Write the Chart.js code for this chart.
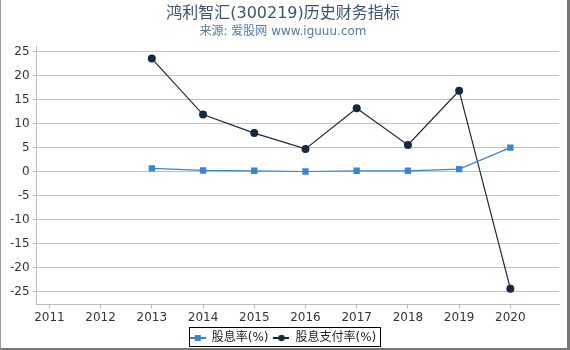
<!DOCTYPE html>
<html>
<head>
<meta charset="utf-8">
<script src="https://cdn.jsdelivr.net/npm/chart.js@4"></script>
<style>
  body { margin: 0; background: #fff; }
  #wrap {
    position: absolute; left: 0; top: 0;
    width: 566px; height: 348px;
    border-left: 1px solid #999;
    border-right: 3px solid #777;
    border-bottom: 2px solid #777;
  }
</style>
</head>
<body>
<div id="wrap"><canvas id="grafico"></canvas></div>
<script>
const anios = [2013, 2014, 2015, 2016, 2017, 2018, 2019, 2020];
const guxilv = [0.72, 0.27, 0.2, 0.06, 0.2, 0.2, 0.55, 5.03];
const zhifulv = [23.6, 11.93, 8.07, 4.76, 13.25, 5.59, 16.9, -24.37];
const ticksY = [-25, -20, -15, -10, -5, 0, 5, 10, 15, 20, 25];
const ticksX = [2011, 2012, 2013, 2014, 2015, 2016, 2017, 2018, 2019, 2020];

const FUENTE = '"DejaVu Sans", "Noto Sans CJK SC", sans-serif';

// icono de leyenda: linea corta con marcador
const iconoLeyenda = (color, forma) => {
    const c = document.createElement('canvas');
    c.width = 16; c.height = 8;
    const g = c.getContext('2d');
    g.strokeStyle = color;
    g.lineWidth = 2;
    g.beginPath(); g.moveTo(0, 4); g.lineTo(16, 4); g.stroke();
    g.fillStyle = color;
    if (forma === 'rect') {
        g.fillRect(5, 1, 6, 6);
    } else {
        g.beginPath(); g.arc(8, 4, 3.2, 0, Math.PI * 2); g.fill();
    }
    return c;
};

const bordeLeyenda = {
    id: 'bordeLeyenda',
    afterDraw(chart) {
        const l = chart.legend;
        if (!l || !l.legendHitBoxes.length) return;
        const boxes = l.legendHitBoxes;
        const x0 = boxes[0].left - 1;
        const last = boxes[boxes.length - 1];
        const x1 = last.left + last.width + 3;
        const y0 = boxes[0].top - 5;
        const y1 = Math.min(boxes[0].top + boxes[0].height + 4, chart.height - 1);
        const ctx = chart.ctx;
        ctx.save();
        ctx.strokeStyle = '#000';
        ctx.lineWidth = 1;
        ctx.strokeRect(Math.round(x0) + 0.5, Math.round(y0) + 0.5, Math.round(x1 - x0), Math.round(y1 - y0) - 1);
        ctx.restore();
    }
};

const ctx = document.getElementById('grafico').getContext('2d');
new Chart(ctx, {
    type: 'line',
    data: {
        datasets: [
            {
                label: '股息率(%)',
                data: anios.map((a, i) => ({ x: a, y: guxilv[i] })),
                borderColor: '#3a84d8',
                backgroundColor: '#3a84d8',
                borderWidth: 1.2,
                pointStyle: 'rect',
                pointRadius: 4.5,
                pointBorderWidth: 0,
                tension: 0
            },
            {
                label: '股息支付率(%)',
                data: anios.map((a, i) => ({ x: a, y: zhifulv[i] })),
                borderColor: '#1a2740',
                backgroundColor: '#1a2740',
                borderWidth: 1.2,
                pointStyle: 'circle',
                pointRadius: 4,
                pointBorderWidth: 0,
                tension: 0
            }
        ]
    },
    options: {
        responsive: true,
        maintainAspectRatio: false,
        animation: false,
        layout: { padding: { left: 6, right: 8, top: 0, bottom: -6 } },
        scales: {
            x: {
                type: 'linear',
                min: 2010.75,
                max: 2020.95,
                afterBuildTicks: (axis) => { axis.ticks = ticksX.map(v => ({ value: v })); },
                grid: { drawOnChartArea: false, drawTicks: true, tickLength: 4, color: '#bbb' },
                border: { color: '#bbb' },
                ticks: {
                    color: '#333',
                    font: { family: FUENTE, size: 12 },
                    padding: 2,
                    maxRotation: 0,
                    callback: (v) => String(v)
                }
            },
            y: {
                min: -27.7,
                max: 26.1,
                afterBuildTicks: (axis) => { axis.ticks = ticksY.map(v => ({ value: v })); },
                grid: { color: '#c0c0c0', tickLength: 4 },
                border: { color: '#bbb' },
                ticks: {
                    color: '#333',
                    font: { family: FUENTE, size: 12 },
                    padding: 3
                }
            }
        },
        plugins: {
            title: {
                display: true,
                text: '鸿利智汇(300219)历史财务指标',
                color: '#3b5273',
                font: { family: FUENTE, size: 16, weight: 'normal' },
                padding: { top: 4, bottom: 0 }
            },
            subtitle: {
                display: true,
                text: '来源: 爱股网 www.iguuu.com',
                color: '#5a78a0',
                font: { family: FUENTE, size: 12 },
                padding: { top: 1, bottom: 8 }
            },
            legend: {
                position: 'bottom',
                labels: {
                    color: '#222',
                    font: { family: FUENTE, size: 12 },
                    usePointStyle: true,
                    pointStyleWidth: 16,
                    boxHeight: 8,
                    padding: 5,
                    generateLabels: (chart) => chart.data.datasets.map((ds, i) => ({
                        text: ds.label,
                        pointStyle: iconoLeyenda(ds.borderColor, ds.pointStyle),
                        datasetIndex: i,
                        fontColor: '#222',
                        lineWidth: 0,
                        hidden: false
                    }))
                }
            },
            tooltip: { enabled: false }
        }
    },
    plugins: [bordeLeyenda]
});
</script>
</body>
</html>
